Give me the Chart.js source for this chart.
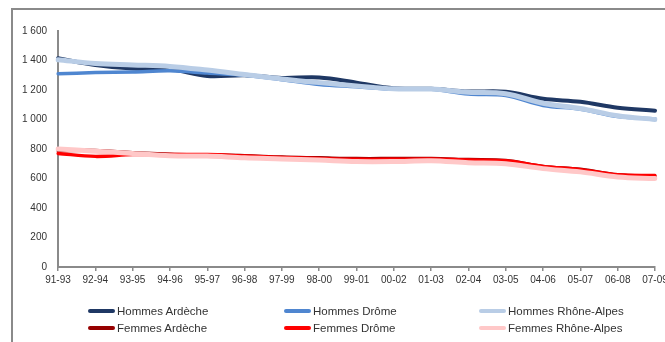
<!DOCTYPE html>
<html>
<head>
<meta charset="utf-8">
<script src="https://cdn.jsdelivr.net/npm/chart.js@4.4.1/dist/chart.umd.min.js"></script>
<style>
  html, body { margin:0; padding:0; background:#fff; overflow:hidden; width:665px; height:342px; }
  #wrap { position:absolute; left:0; top:0; width:685px; height:342px; }
  #frameL { position:absolute; left:11px; top:8px; width:2px; height:340px; background:#8a8a8a; }
  #frameT { position:absolute; left:11px; top:8px; width:660px; height:2px; background:#8a8a8a; }
  #legend { position:absolute; left:0; top:0; width:665px; height:342px; pointer-events:none;
            font-family:"Liberation Sans", Arial, sans-serif; font-size:11.5px; color:#333; }
  .li { position:absolute; display:flex; align-items:center; white-space:nowrap; }
  .sw { width:27px; height:4px; border-radius:2px; margin-right:2px; }
</style>
</head>
<body>
<div id="wrap"><canvas id="c" width="685" height="342"></canvas></div>
<div id="frameL"></div><div id="frameT"></div>
<div id="legend"></div>
<script>
const categories = ["91-93","92-94","93-95","94-96","95-97","96-98","97-99","98-00","99-01","00-02","01-03","02-04","03-05","04-06","05-07","06-08","07-09"];
const hommesArdeche    = [1415,1370,1345,1340,1295,1300,1282,1285,1250,1212,1208,1190,1188,1140,1120,1080,1060];
const hommesDrome      = [1310,1318,1322,1330,1315,1300,1270,1238,1222,1205,1205,1172,1162,1095,1070,1020,1005];
const hommesRhoneAlpes = [1405,1380,1370,1360,1335,1305,1275,1250,1228,1208,1206,1185,1175,1110,1075,1025,1000];
const femmesArdeche    = [790,790,775,765,760,755,745,740,735,735,735,728,722,682,662,625,615];
const femmesDrome      = [770,750,762,762,762,752,742,735,730,730,732,725,720,682,660,625,620];
const femmesRhoneAlpes = [800,785,770,755,752,740,733,725,715,715,720,707,700,667,645,610,600];
const seriesNames = ["Hommes Ardèche","Hommes Drôme","Hommes Rhône-Alpes","Femmes Ardèche","Femmes Drôme","Femmes Rhône-Alpes"];
const seriesData = [hommesArdeche,hommesDrome,hommesRhoneAlpes,femmesArdeche,femmesDrome,femmesRhoneAlpes];
const seriesColors = ["#1f3864","#4f86d0","#b9cde6","#960000","#ff0000","#ffc8c8"];
const seriesWidths = [4,3.5,5,3.5,3.5,5];

const fontFam = '"Liberation Sans", Arial, sans-serif';
const datasets = seriesData.map((d,i)=>({
  label: seriesNames[i], data: d, borderColor: seriesColors[i], backgroundColor: seriesColors[i],
  borderWidth: seriesWidths[i], pointRadius: 0, tension: 0.35, fill:false, order: 6-i,
  borderCapStyle:'round', borderJoinStyle:'round'
}));

new Chart(document.getElementById('c'), {
  type:'line',
  data:{ labels: categories, datasets },
  options:{
    responsive:false, animation:false,
    layout:{ padding:{ left:0, right:30, top:31, bottom:51 } },
    plugins:{ legend:{display:false}, tooltip:{enabled:false} },
    scales:{
      x:{
        offset:false,
        grid:{ display:true, drawOnChartArea:false, drawTicks:true, tickLength:4, color:'#8a8a8a', lineWidth:1.5 },
        border:{ display:true, color:'#8a8a8a', width:2 },
        ticks:{ font:{family:fontFam, size:10}, color:'#333', maxRotation:0, minRotation:0, autoSkip:false, padding:3 },
        afterFit(s){ s.height = 24; }
      },
      y:{
        min:0, max:1600,
        grid:{ display:false, drawTicks:false },
        border:{ display:true, color:'#8a8a8a', width:2 },
        ticks:{ stepSize:200, font:{family:fontFam, size:10}, color:'#333', padding:11,
          callback:(v)=>String(v).replace(/\B(?=(\d{3})+(?!\d))/g,' ') },
        afterFit(s){ s.width = 58; }
      }
    }
  }
});

// HTML legend built from series arrays
const lg = document.getElementById('legend');
const colX = [88, 284, 479];
const rowY = [312, 329];
seriesNames.forEach((n,i)=>{
  const el = document.createElement('div');
  el.className='li';
  el.style.left = colX[i%3]+'px';
  el.style.top = (rowY[Math.floor(i/3)]-7)+'px';
  el.innerHTML = '<span class="sw" style="background:'+seriesColors[i]+'"></span><span>'+n+'</span>';
  lg.appendChild(el);
});
</script>
</body>
</html>
